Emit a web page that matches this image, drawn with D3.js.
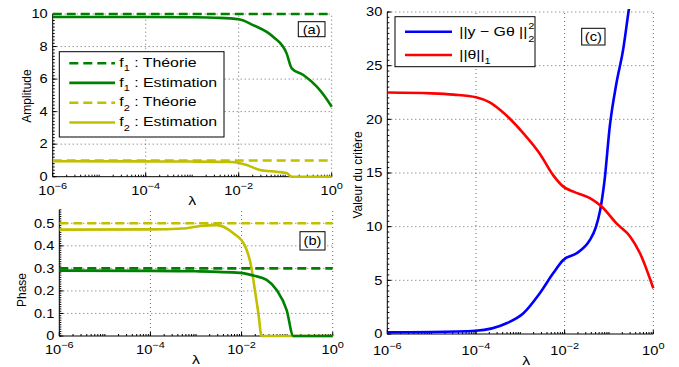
<!DOCTYPE html>
<html>
<head>
<meta charset="utf-8">
<script src="https://cdn.jsdelivr.net/npm/d3@7"></script>
<style>
  body { margin: 0; background: #fff; }
  svg text { font-family: "Liberation Sans", Arial, Helvetica, sans-serif; fill: #000; }
</style>
</head>
<body>
<svg id="chart" width="679" height="367"></svg>
<script>
// ---- data (lambda given as log10 exponents) ----
const majorDecades = [-6, -4, -2, 0];

// panel (a) : amplitude
const f1AmpTheory = 10;
const f2AmpTheory = 1;
const f1AmpLog = [-6, -4, -3, -2.5, -2, -1.69, -1.26, -0.97, -0.86, -0.61, -0.32, -0.14, 0];
const f1AmpVal = [9.82, 9.82, 9.8, 9.77, 9.68, 9.32, 8.6, 7.58, 6.66, 6.25, 5.53, 4.9, 4.3];
const f2AmpLog = [-6, -4, -3, -2.15, -1.83, -1.54, -1.18, -0.97, -0.9, -0.85, 0];
const f2AmpVal = [0.95, 0.94, 0.93, 0.9, 0.72, 0.41, 0.3, 0.23, 0.06, 0, 0];

// panel (b) : phase
const f1PhTheory = 0.3;
const f2PhTheory = 0.5;
const f1PhLog = [-6, -4, -3, -2.03, -1.74, -1.45, -1.23, -1.01, -0.865, 0];
const f1PhVal = [0.29, 0.289, 0.287, 0.28, 0.268, 0.249, 0.204, 0.115, 0, 0];
const f2PhLog = [-6, -4, -3.3, -2.9, -2.55, -2.18, -1.925, -1.78, -1.705, -1.63, -1.56, 0];
const f2PhVal = [0.472, 0.473, 0.477, 0.488, 0.492, 0.456, 0.4, 0.3, 0.2, 0.1, 0, 0];

// panel (c) : criteria
const fitLog = [-6, -5, -4, -3.31, -2.93, -2.56, -2.26, -2.03, -1.73, -1.43, -1.3, -1.2, -1.1, -0.98, -0.83, -0.68, -0.56, -0.45];
const fitVal = [0.15, 0.18, 0.3, 1.0, 1.93, 3.79, 5.65, 6.9, 7.52, 8.76, 9.9, 11.5, 14.3, 19.4, 23.4, 26.5, 30, 33];
const l1Log = [-6, -5, -4.5, -4, -3.7, -3.46, -2.93, -2.56, -2.26, -2.03, -1.8, -1.43, -1.16, -0.83, -0.52, -0.3, 0];
const l1Val = [22.5, 22.42, 22.3, 22.05, 21.6, 20.9, 18.7, 16.8, 14.8, 13.73, 13.26, 12.65, 11.86, 10.3, 9.07, 7.52, 4.26];

const GREEN = '#008000';
const YELLOW = '#c0bf00';
const SX = 1.22; // text in the reference is stretched horizontally

const svg = d3.select('#chart');

function sText(parent, x, y, size, anchor) {
  return parent.append('text')
    .attr('transform', `translate(${x},${y}) scale(${SX},1)`)
    .attr('font-size', size)
    .attr('text-anchor', anchor || 'start');
}

function drawPanel(cfg) {
  const x = d3.scaleLog().domain([1e-6, 1]).range(cfg.xr);
  const y = d3.scaleLinear().domain(cfg.yd).range(cfg.yr);
  const g = svg.append('g');

  svg.append('clipPath').attr('id', 'clip-' + cfg.id)
    .append('rect')
    .attr('x', cfg.xr[0]).attr('y', cfg.yr[1] - 3)
    .attr('width', cfg.xr[1] - cfg.xr[0] + 2)
    .attr('height', cfg.yr[0] - cfg.yr[1] + 5);

  // dotted grid
  const grid = g.append('g').attr('stroke', '#444').attr('stroke-width', 0.8)
    .attr('stroke-dasharray', '1,3');
  grid.selectAll('.gx').data(majorDecades.slice(1)).enter().append('line')
    .attr('x1', d => x(Math.pow(10, d))).attr('x2', d => x(Math.pow(10, d)))
    .attr('y1', cfg.yr[0]).attr('y2', cfg.yr[1]);
  grid.selectAll('.gy').data(cfg.yTicks.slice(1)).enter().append('line')
    .attr('x1', cfg.xr[0]).attr('x2', cfg.xr[1])
    .attr('y1', d => y(d)).attr('y2', d => y(d));

  // axes lines
  const ax = g.append('g').attr('stroke', '#000').attr('stroke-width', 1);
  ax.append('line').attr('x1', cfg.xr[0]).attr('x2', cfg.xr[1])
    .attr('y1', cfg.yr[0]).attr('y2', cfg.yr[0]);
  ax.append('line').attr('x1', cfg.xr[0]).attr('x2', cfg.xr[0])
    .attr('y1', cfg.yr[0]).attr('y2', cfg.yr[1]);

  // minor x ticks
  const minors = [];
  for (let e = -6; e < 0; e++) for (let m = 2; m <= 10; m++) minors.push(m * Math.pow(10, e));
  ax.selectAll('.mx').data(minors).enter().append('line')
    .attr('x1', d => x(d)).attr('x2', d => x(d))
    .attr('y1', cfg.yr[0]).attr('y2', cfg.yr[0] - 2);
  ax.selectAll('.tx').data(majorDecades).enter().append('line')
    .attr('x1', d => x(Math.pow(10, d))).attr('x2', d => x(Math.pow(10, d)))
    .attr('y1', cfg.yr[0]).attr('y2', cfg.yr[0] - 4);
  // y ticks
  const step = cfg.yTicks[1] - cfg.yTicks[0];
  const yMinor = d3.range(0, Math.round((cfg.yd[1] - cfg.yd[0]) / step * 10) + 1)
    .map(i => cfg.yd[0] + i * step / 10).filter(v => v <= cfg.yd[1]);
  ax.selectAll('.my').data(yMinor).enter().append('line')
    .attr('x1', cfg.xr[0]).attr('x2', cfg.xr[0] + 2)
    .attr('y1', d => y(d)).attr('y2', d => y(d));
  ax.selectAll('.ty').data(cfg.yTicks).enter().append('line')
    .attr('x1', cfg.xr[0]).attr('x2', cfg.xr[0] + 4)
    .attr('y1', d => y(d)).attr('y2', d => y(d));

  // x tick labels
  majorDecades.forEach(d => {
    const t = sText(g, x(Math.pow(10, d)), cfg.xLabelY, 12, 'middle');
    t.append('tspan').text('10');
    t.append('tspan').attr('font-size', 9).attr('dy', -6)
      .text(d < 0 ? '\u2212' + (-d) : String(d));
  });
  // y tick labels
  cfg.yTicks.forEach(v => {
    sText(g, cfg.xr[0] - 5, y(v) + 4.3, 12, 'end').text(cfg.yFmt(v));
  });

  // axis titles
  sText(g, (cfg.xr[0] + cfg.xr[1]) / 2 + (cfg.lamDx || 0), cfg.xLabelY + 9.5, 13, 'middle').text('\u03bb');
  g.append('text').attr('font-size', 12).attr('text-anchor', 'middle')
    .attr('transform', `translate(${cfg.yTitle[0]},${cfg.yTitle[1]}) rotate(-90)`)
    .text(cfg.yLabel);

  // series
  const plot = g.append('g').attr('clip-path', `url(#clip-${cfg.id})`);
  const line = d3.line()
    .x(d => x(Math.pow(10, d[0])))
    .y(d => y(d[1]))
    .curve(d3.curveMonotoneX);
  cfg.series.forEach(s => {
    const pts = s.logs.map((l, i) => [l, s.vals[i]]);
    plot.append('path').attr('d', line(pts))
      .attr('fill', 'none').attr('stroke', s.color).attr('stroke-width', 2.6)
      .attr('stroke-dasharray', s.dash || null);
  });

  // panel tag
  const b = cfg.tag;
  g.append('rect').attr('x', b[0]).attr('y', b[1]).attr('width', b[2]).attr('height', b[3])
    .attr('fill', '#fff').attr('stroke', '#000').attr('stroke-width', 1);
  sText(g, b[0] + b[2] / 2, b[1] + b[3] / 2 + 4.3, 12, 'middle').text(b[4]);

  return { x, y, g };
}

// panel (a)
drawPanel({
  id: 'a', xr: [52.7, 331.7], yr: [176.7, 14], yd: [0, 10],
  yTicks: [0, 2, 4, 6, 8, 10], yFmt: d3.format('d'),
  xLabelY: 195, yLabel: 'Amplitude', yTitle: [31, 96],
  series: [
    { logs: [-6, 0], vals: [f1AmpTheory, f1AmpTheory], color: GREEN, dash: '9,5' },
    { logs: f1AmpLog, vals: f1AmpVal, color: GREEN },
    { logs: [-6, 0], vals: [f2AmpTheory, f2AmpTheory], color: YELLOW, dash: '9,5' },
    { logs: f2AmpLog, vals: f2AmpVal, color: YELLOW }
  ],
  tag: [298.3, 21.7, 26.7, 15, '(a)']
});

// panel (b)
drawPanel({
  id: 'b', xr: [59.3, 332.7], yr: [336, 209.8], yd: [0, 0.56],
  yTicks: [0, 0.1, 0.2, 0.3, 0.4, 0.5], yFmt: v => v === 0 ? '0' : d3.format('.1f')(v),
  xLabelY: 354, yLabel: 'Phase', yTitle: [26, 290],
  series: [
    { logs: [-6, 0], vals: [f2PhTheory, f2PhTheory], color: YELLOW, dash: '9,5' },
    { logs: f2PhLog, vals: f2PhVal, color: YELLOW },
    { logs: [-6, 0], vals: [f1PhTheory, f1PhTheory], color: GREEN, dash: '9,5' },
    { logs: f1PhLog, vals: f1PhVal, color: GREEN }
  ],
  tag: [300, 231.7, 25, 18.3, '(b)']
});

// panel (c)
drawPanel({
  id: 'c', xr: [387.3, 653.3], yr: [334, 12], yd: [0, 30],
  yTicks: [0, 5, 10, 15, 20, 25, 30], yFmt: d3.format('d'),
  xLabelY: 355, yLabel: 'Valeur du crit\u00e8re', yTitle: [362, 175], lamDx: 6,
  series: [
    { logs: fitLog, vals: fitVal, color: '#0000ff' },
    { logs: l1Log, vals: l1Val, color: '#ff0000' }
  ],
  tag: [581.7, 28.3, 23.3, 16.7, '(c)']
});

// legend (a)
const legA = svg.append('g');
legA.append('rect').attr('x', 59.3).attr('y', 51.7).attr('width', 164.7).attr('height', 85.3)
  .attr('fill', '#fff').attr('stroke', '#000').attr('stroke-width', 1);
const legAItems = [
  { sub: '1', label: ' : Th\u00e9orie', color: GREEN, dash: '9,5' },
  { sub: '1', label: ' : Estimation', color: GREEN },
  { sub: '2', label: ' : Th\u00e9orie', color: YELLOW, dash: '9,5' },
  { sub: '2', label: ' : Estimation', color: YELLOW }
];
const legARows = [63.3, 82.9, 102.7, 122.5];
legAItems.forEach((it, i) => {
  const yy = legARows[i];
  legA.append('line').attr('x1', 69.3).attr('x2', 115).attr('y1', yy).attr('y2', yy)
    .attr('stroke', it.color).attr('stroke-width', 2.6).attr('stroke-dasharray', it.dash || null);
  const t = sText(legA, 119.3, yy + 3.6, 13, 'start');
  t.append('tspan').text('f');
  t.append('tspan').attr('font-size', 9).attr('dy', 4.5).text(it.sub);
  t.append('tspan').attr('dy', -4.5).text(it.label);
});

// legend (c)
const legC = svg.append('g');
legC.append('rect').attr('x', 395).attr('y', 16.7).attr('width', 140).attr('height', 50)
  .attr('fill', '#fff').attr('stroke', '#000').attr('stroke-width', 1);
legC.append('line').attr('x1', 405).attr('x2', 452).attr('y1', 31.7).attr('y2', 31.7)
  .attr('stroke', '#0000ff').attr('stroke-width', 2.6);
legC.append('line').attr('x1', 405).attr('x2', 452).attr('y1', 55).attr('y2', 55)
  .attr('stroke', '#ff0000').attr('stroke-width', 2.6);
const fitTxt = sText(legC, 459.3, 36, 13, 'start').text('||y \u2212 G\u03b8 ||');
const fitEnd = 459.3 + fitTxt.node().getComputedTextLength() * SX + 1;
sText(legC, fitEnd, 41.5, 9, 'start').text('2');
sText(legC, fitEnd, 28.5, 9, 'start').text('2');
const l1t = sText(legC, 459.3, 59, 13, 'start');
l1t.append('tspan').text('||\u03b8||');
l1t.append('tspan').attr('font-size', 9).attr('dy', 4.5).text('1');
</script>
</body>
</html>
